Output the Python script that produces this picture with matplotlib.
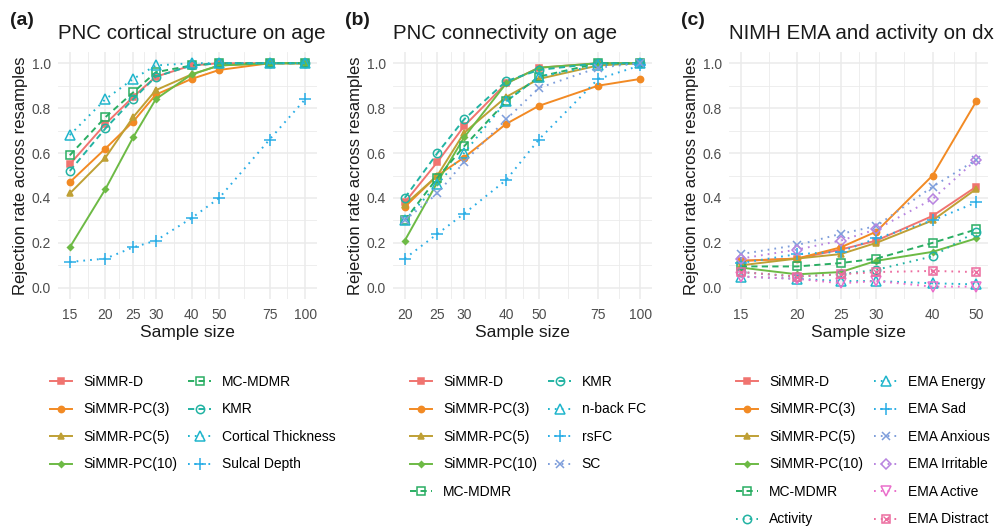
import matplotlib
matplotlib.use('Agg')
import matplotlib.pyplot as plt
import numpy as np
from matplotlib.legend_handler import HandlerTuple

plt.rcParams['font.family'] = ['Liberation Sans', 'DejaVu Sans']

# ---- data ----
# (a) PNC cortical structure on age
n_a = [15, 20, 25, 30, 40, 50, 75, 100]
a_simmr_d = [0.55, 0.73, 0.85, 0.94, 0.99, 1.0, 1.0, 1.0]
a_pc3 = [0.47, 0.62, 0.74, 0.86, 0.93, 0.97, 1.0, 1.0]
a_pc5 = [0.42, 0.58, 0.76, 0.88, 0.95, 0.99, 1.0, 1.0]
a_pc10 = [0.18, 0.44, 0.67, 0.84, 0.95, 0.99, 1.0, 1.0]
a_mcmdmr = [0.59, 0.76, 0.87, 0.96, 0.99, 1.0, 1.0, 1.0]
a_kmr = [0.52, 0.71, 0.84, 0.94, 0.99, 1.0, 1.0, 1.0]
a_thick = [0.68, 0.84, 0.93, 0.99, 1.0, 1.0, 1.0, 1.0]
a_sulc = [0.115, 0.13, 0.18, 0.21, 0.31, 0.40, 0.66, 0.84]

# (b) PNC connectivity on age
n_b = [20, 25, 30, 40, 50, 75, 100]
b_simmr_d = [0.38, 0.56, 0.72, 0.91, 0.98, 1.0, 1.0]
b_pc3 = [0.36, 0.50, 0.58, 0.73, 0.81, 0.90, 0.93]
b_pc5 = [0.37, 0.50, 0.69, 0.85, 0.93, 0.99, 1.0]
b_pc10 = [0.21, 0.47, 0.67, 0.91, 0.98, 1.0, 1.0]
b_mcmdmr = [0.30, 0.49, 0.63, 0.83, 0.94, 1.0, 1.0]
b_kmr = [0.40, 0.60, 0.75, 0.92, 0.97, 1.0, 1.0]
b_nback = [0.30, 0.46, 0.60, 0.83, 0.94, 0.99, 1.0]
b_rsfc = [0.13, 0.24, 0.33, 0.48, 0.66, 0.93, 0.99]
b_sc = [0.30, 0.42, 0.56, 0.75, 0.89, 0.98, 1.0]

# (c) NIMH EMA and activity on dx
n_c = [15, 20, 25, 30, 40, 50]
c_simmr_d = [0.12, 0.13, 0.17, 0.21, 0.32, 0.45]
c_pc3 = [0.12, 0.13, 0.18, 0.25, 0.50, 0.83]
c_pc5 = [0.10, 0.13, 0.15, 0.20, 0.30, 0.44]
c_pc10 = [0.09, 0.06, 0.07, 0.12, 0.16, 0.22]
c_mcmdmr = [0.095, 0.095, 0.11, 0.13, 0.20, 0.26]
c_activity = [0.07, 0.05, 0.06, 0.08, 0.14, 0.25]
c_energy = [0.05, 0.04, 0.03, 0.03, 0.02, 0.015]
c_sad = [0.11, 0.15, 0.16, 0.22, 0.30, 0.38]
c_anxious = [0.15, 0.19, 0.24, 0.275, 0.45, 0.57]
c_irritable = [0.13, 0.17, 0.21, 0.26, 0.395, 0.57]
c_active = [0.05, 0.04, 0.02, 0.03, 0.005, 0.005]
c_distract = [0.07, 0.05, 0.06, 0.07, 0.075, 0.07]

# ---- styles ----
RED, ORANGE, OLIVE, GREEN = '#F07470', '#F28A24', '#BFA035', '#6DBA45'
MCGREEN, TEAL, CYAN, SKY = '#2AAE63', '#22B3A3', '#1FB5CC', '#29ADE6'
PERI, PURPLE, PINK, ROSE = '#7E9EDB', '#B884E0', '#EA6FCB', '#EC6C9F'

SOLID = '-'
DASH = (0, (3.2, 2.2))
DOT = (0, (0.9, 2.6))

styles = {
    'SiMMR-D': dict(color=RED, ls=SOLID, marker='s', ms=4.5, fill=True),
    'SiMMR-PC(3)': dict(color=ORANGE, ls=SOLID, marker='o', ms=4.5, fill=True),
    'SiMMR-PC(5)': dict(color=OLIVE, ls=SOLID, marker='^', ms=5, fill=True),
    'SiMMR-PC(10)': dict(color=GREEN, ls=SOLID, marker='D', ms=3, fill=True),
    'MC-MDMR': dict(color=MCGREEN, ls=DASH, marker='s', ms=6, fill=False),
    'KMR': dict(color=TEAL, ls=DASH, marker='o', ms=6, fill=False),
    'Activity': dict(color=TEAL, ls=DOT, marker='o', ms=6, fill=False),
    'Cortical Thickness': dict(color=CYAN, ls=DOT, marker='^', ms=6.5, fill=False),
    'n-back FC': dict(color=CYAN, ls=DOT, marker='^', ms=6.5, fill=False),
    'EMA Energy': dict(color=CYAN, ls=DOT, marker='^', ms=6.5, fill=False),
    'Sulcal Depth': dict(color=SKY, ls=DOT, marker='+', ms=8, fill=False),
    'rsFC': dict(color=SKY, ls=DOT, marker='+', ms=8, fill=False),
    'EMA Sad': dict(color=SKY, ls=DOT, marker='+', ms=8, fill=False),
    'SC': dict(color=PERI, ls=DOT, marker='x', ms=6, fill=False),
    'EMA Anxious': dict(color=PERI, ls=DOT, marker='x', ms=6, fill=False),
    'EMA Irritable': dict(color=PURPLE, ls=DOT, marker='D', ms=5.5, fill=False),
    'EMA Active': dict(color=PINK, ls=DOT, marker='v', ms=6.5, fill=False),
    'EMA Distract': dict(color=ROSE, ls=DOT, marker='s', ms=6, fill=False),
}

W, H = 1002, 528
fig = plt.figure(figsize=(W / 100, H / 100), dpi=100)


def px_axes(left, top, right, bottom):
    return fig.add_axes([left / W, 1 - bottom / H, (right - left) / W, (bottom - top) / H])


def draw_panel(ax, n, series, tag, title, leg_x):
    handles = []
    for name, y in series:
        st = styles[name]
        mfc = st['color'] if st['fill'] else 'none'
        ln, = ax.plot(n, y, color=st['color'], ls=st['ls'], lw=1.4,
                      marker=st['marker'], ms=st['ms'], mfc=mfc,
                      mec=st['color'], mew=1.1, label=name)
        if name == 'EMA Distract':
            # square with a cross inside
            cross, = ax.plot(n, y, ls='none', marker='x', ms=4, mec=st['color'], mew=1.0)
            handles.append((ln, cross))
        else:
            handles.append(ln)

    ax.set_xscale('log')
    lo, hi = np.log(n[0]), np.log(n[-1])
    ext = 0.05 * (hi - lo)
    ax.set_xlim(np.exp(lo - ext), np.exp(hi + ext))
    ax.set_ylim(-0.05, 1.05)
    ax.set_xticks(n)
    ax.set_xticklabels([str(v) for v in n])
    mids = np.sqrt(np.array(n[:-1]) * np.array(n[1:]))
    ax.set_xticks(mids, minor=True)
    ax.xaxis.set_minor_formatter(plt.NullFormatter())
    ax.set_yticks([0, 0.2, 0.4, 0.6, 0.8, 1.0])
    ax.set_yticklabels(['0.0', '0.2', '0.4', '0.6', '0.8', '1.0'])
    ax.set_yticks([0.1, 0.3, 0.5, 0.7, 0.9], minor=True)
    ax.grid(True, which='major', color='#EBEBEB', lw=1.1)
    ax.grid(True, which='minor', color='#EBEBEB', lw=0.6)
    ax.set_axisbelow(True)
    for s in ax.spines.values():
        s.set_visible(False)
    ax.tick_params(which='both', length=0, labelsize=10, labelcolor='#4D4D4D')
    ax.tick_params(axis='x', pad=6.5)
    ax.tick_params(axis='y', pad=5)
    ax.set_xlabel('Sample size', fontsize=12.5, color='#1A1A1A', labelpad=2)
    ax.set_ylabel('Rejection rate across resamples', fontsize=12, color='#1A1A1A', labelpad=3)

    bb = ax.get_position()
    fig.text(bb.x0, 1 - 39 / H, title, fontsize=14.8, color='#1A1A1A', ha='left', va='baseline')
    fig.text(bb.x0 - 48 / W, 1 - 25 / H, tag, fontsize=14, fontweight='bold',
             color='#1A1A1A', ha='left', va='baseline')

    ax.legend(handles, [nm for nm, _ in series], loc='upper left',
              bbox_to_anchor=(leg_x / W, 1 - 375 / H), bbox_transform=fig.transFigure,
              ncol=2, frameon=False, fontsize=10, borderpad=0, borderaxespad=0,
              handlelength=1.6, handletextpad=0.8, columnspacing=0.8, labelspacing=0.97,
              handler_map={tuple: HandlerTuple(ndivide=1)})


ax_a = px_axes(58, 52, 317, 299)
ax_b = px_axes(393, 52, 652, 299)
ax_c = px_axes(729, 52, 988, 299)

draw_panel(ax_a, n_a, [
    ('SiMMR-D', a_simmr_d), ('SiMMR-PC(3)', a_pc3), ('SiMMR-PC(5)', a_pc5),
    ('SiMMR-PC(10)', a_pc10), ('MC-MDMR', a_mcmdmr), ('KMR', a_kmr),
    ('Cortical Thickness', a_thick), ('Sulcal Depth', a_sulc)],
    '(a)', 'PNC cortical structure on age', 50)

draw_panel(ax_b, n_b, [
    ('SiMMR-D', b_simmr_d), ('SiMMR-PC(3)', b_pc3), ('SiMMR-PC(5)', b_pc5),
    ('SiMMR-PC(10)', b_pc10), ('MC-MDMR', b_mcmdmr), ('KMR', b_kmr),
    ('n-back FC', b_nback), ('rsFC', b_rsfc), ('SC', b_sc)],
    '(b)', 'PNC connectivity on age', 410)

draw_panel(ax_c, n_c, [
    ('SiMMR-D', c_simmr_d), ('SiMMR-PC(3)', c_pc3), ('SiMMR-PC(5)', c_pc5),
    ('SiMMR-PC(10)', c_pc10), ('MC-MDMR', c_mcmdmr), ('Activity', c_activity),
    ('EMA Energy', c_energy), ('EMA Sad', c_sad), ('EMA Anxious', c_anxious),
    ('EMA Irritable', c_irritable), ('EMA Active', c_active), ('EMA Distract', c_distract)],
    '(c)', 'NIMH EMA and activity on dx', 736)

fig.savefig('out.png', dpi=100)
